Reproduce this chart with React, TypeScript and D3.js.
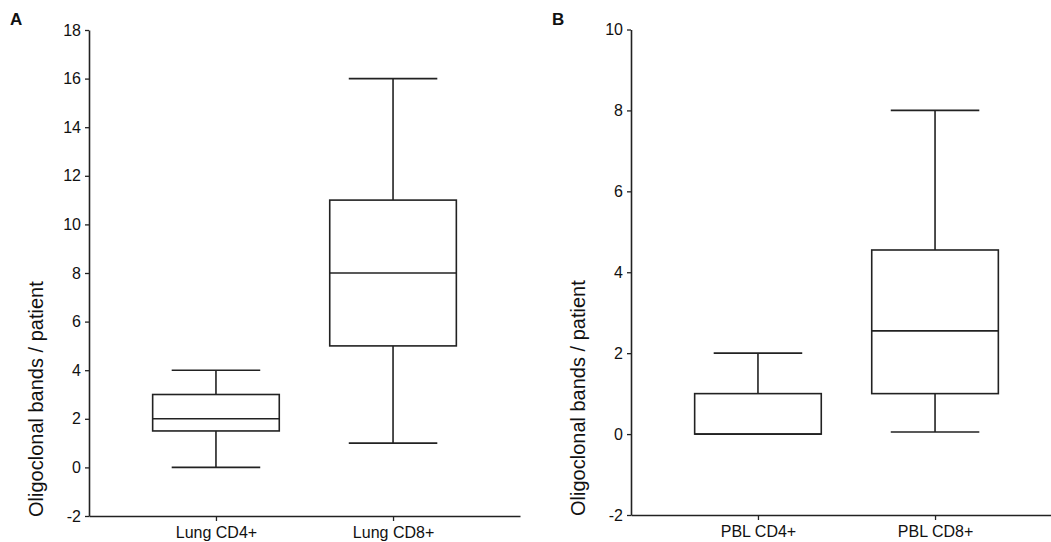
import React, { useEffect, useRef } from "react";
import * as d3 from "d3";

// panel A - lung T cells
const lungGroups = ["Lung CD4+", "Lung CD8+"];
const lungMin = [0, 1];
const lungQ1 = [1.5, 5];
const lungMedian = [2, 8];
const lungQ3 = [3, 11];
const lungMax = [4, 16];
const lungTicks = [-2, 0, 2, 4, 6, 8, 10, 12, 14, 16, 18];

// panel B - peripheral blood
const pblGroups = ["PBL CD4+", "PBL CD8+"];
const pblMin = [0, 0.05];
const pblQ1 = [0, 1];
const pblMedian = [0, 2.55];
const pblQ3 = [1, 4.55];
const pblMax = [2, 8];
const pblTicks = [-2, 0, 2, 4, 6, 8, 10];

const W = 1051;
const H = 542;
const INK = "#222";
const FONT = "'Liberation Sans', Arial, sans-serif";

type Panel = {
  letter: string;
  groups: string[];
  min: number[];
  q1: number[];
  med: number[];
  q3: number[];
  max: number[];
  ticks: number[];
  x0: number;
  x1: number;
  yTop: number;
  yBottom: number;
  letterX: number;
};

const panels: Panel[] = [
  {
    letter: "A",
    groups: lungGroups,
    min: lungMin,
    q1: lungQ1,
    med: lungMedian,
    q3: lungQ3,
    max: lungMax,
    ticks: lungTicks,
    x0: 89,
    x1: 520,
    yTop: 30,
    yBottom: 516,
    letterX: 10,
  },
  {
    letter: "B",
    groups: pblGroups,
    min: pblMin,
    q1: pblQ1,
    med: pblMedian,
    q3: pblQ3,
    max: pblMax,
    ticks: pblTicks,
    x0: 631,
    x1: 1062,
    yTop: 29.5,
    yBottom: 515,
    letterX: 552,
  },
];

export default function App() {
  const svgRef = useRef<SVGSVGElement>(null);

  useEffect(() => {
    const svg = d3.select(svgRef.current);
    svg.selectAll("*").remove();

    panels.forEach((p) => {
      const g = svg.append("g");

      const x = d3
        .scalePoint<string>()
        .domain(p.groups)
        .range([p.x0, p.x1])
        .padding(0.717);

      const y = d3
        .scaleLinear()
        .domain([p.ticks[0], p.ticks[p.ticks.length - 1]])
        .range([p.yBottom, p.yTop]);

      const step = x.step();
      const boxW = step * 0.715;
      const capW = step * 0.5;

      // y axis (plain hyphen for negatives, like the original)
      const yAxis = g
        .append("g")
        .attr("transform", `translate(${p.x0},0)`)
        .call(
          d3
            .axisLeft(y)
            .tickValues(p.ticks)
            .tickSize(4)
            .tickSizeOuter(0)
            .tickPadding(4)
            .tickFormat((d) => String(d))
        );

      // x axis
      const xAxis = g
        .append("g")
        .attr("transform", `translate(0,${p.yBottom})`)
        .call(d3.axisBottom(x).tickSize(5).tickSizeOuter(0).tickPadding(6));

      [yAxis, xAxis].forEach((a) => {
        a.select(".domain").attr("stroke", INK).attr("stroke-width", 1.6);
        a.selectAll(".tick line").attr("stroke", INK).attr("stroke-width", 1.3);
        a.selectAll(".tick text")
          .attr("fill", "#111")
          .attr("font-family", FONT)
          .attr("font-size", 16);
      });

      // axis title
      g.append("text")
        .attr("transform", `translate(${p.x0 - 46},${p.yBottom + 1}) rotate(-90)`)
        .attr("font-family", FONT)
        .attr("font-size", 20)
        .attr("fill", "#111")
        .attr("text-anchor", "start")
        .text("Oligoclonal bands / patient");

      // panel letter
      g.append("text")
        .attr("x", p.letterX)
        .attr("y", 25)
        .attr("font-family", FONT)
        .attr("font-weight", "bold")
        .attr("font-size", 17)
        .attr("fill", "#111")
        .text(p.letter);

      const boxes = g
        .selectAll(".box")
        .data(p.groups)
        .join("g")
        .attr("class", "box")
        .attr("stroke", INK)
        .attr("stroke-width", 1.6)
        .attr("fill", "none");

      // whiskers
      boxes
        .append("line")
        .attr("x1", (d) => x(d)!)
        .attr("x2", (d) => x(d)!)
        .attr("y1", (d, i) => y(p.q3[i]))
        .attr("y2", (d, i) => y(p.max[i]));

      boxes
        .append("line")
        .attr("x1", (d) => x(d)!)
        .attr("x2", (d) => x(d)!)
        .attr("y1", (d, i) => y(p.q1[i]))
        .attr("y2", (d, i) => y(p.min[i]));

      // caps
      boxes
        .append("line")
        .attr("x1", (d) => x(d)! - capW / 2)
        .attr("x2", (d) => x(d)! + capW / 2)
        .attr("y1", (d, i) => y(p.max[i]))
        .attr("y2", (d, i) => y(p.max[i]));

      boxes
        .filter((d, i) => p.min[i] < p.q1[i])
        .append("line")
        .attr("x1", (d) => x(d)! - capW / 2)
        .attr("x2", (d) => x(d)! + capW / 2)
        .attr("y1", (d) => y(p.min[p.groups.indexOf(d)]))
        .attr("y2", (d) => y(p.min[p.groups.indexOf(d)]));

      // box
      boxes
        .append("rect")
        .attr("x", (d) => x(d)! - boxW / 2)
        .attr("width", boxW)
        .attr("y", (d, i) => y(p.q3[i]))
        .attr("height", (d, i) => y(p.q1[i]) - y(p.q3[i]))
        .attr("fill", "#fff");

      // median
      boxes
        .append("line")
        .attr("x1", (d) => x(d)! - boxW / 2)
        .attr("x2", (d) => x(d)! + boxW / 2)
        .attr("y1", (d, i) => y(p.med[i]))
        .attr("y2", (d, i) => y(p.med[i]));
    });
  }, []);

  return (
    <div>
      <svg
        ref={svgRef}
        width={W}
        height={H}
        style={{ position: "absolute", left: 0, top: 0, background: "#fff" }}
      ></svg>
    </div>
  );
}
